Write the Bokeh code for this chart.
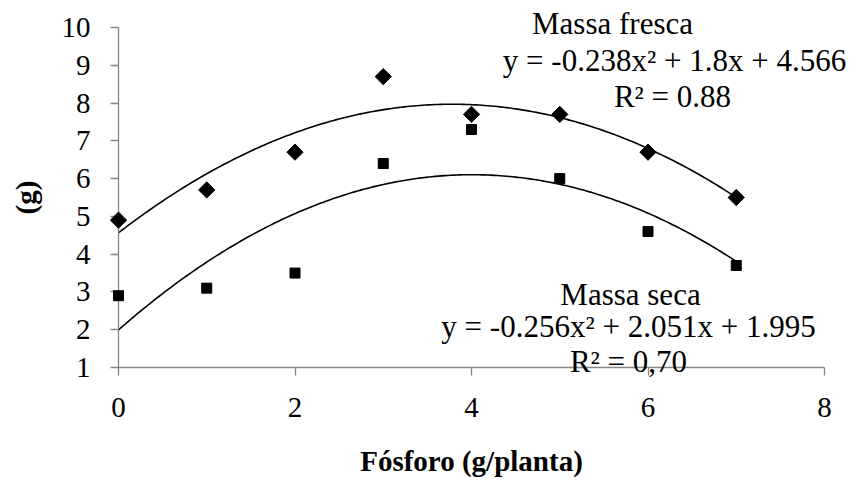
from bokeh.plotting import figure
from bokeh.models import Label, FixedTicker, Range1d
from bokeh.embed import file_html
from bokeh.resources import INLINE
import numpy as np
import math

# ---- data ----
fosforo = [0, 1, 2, 3, 4, 5, 6, 7]
massa_fresca = [4.9, 5.7, 6.7, 8.7, 7.7, 7.7, 6.7, 5.5]
massa_seca = [2.9, 3.1, 3.5, 6.4, 7.3, 6.0, 4.6, 3.7]
coef_fresca = [-0.238, 1.8, 4.566]
coef_seca = [-0.256, 2.051, 1.995]
x_ticks = [0, 2, 4, 6, 8]
y_ticks = [1, 2, 3, 4, 5, 6, 7, 8, 9, 10]

FONT = "Liberation Serif"
GREY = "#868686"

# layout (pixels): x=0 at 118, x=8 at 824; y=10 at 27, y=1 at 367
X0_PX, Y1_PX = 118, 367
PX_X = 706 / 8
PX_Y = 340 / 9
W, H = 850, 482
x_start = -X0_PX / PX_X
x_end = (W - X0_PX) / PX_X
y_end = 10 + (27 - 0) / PX_Y
y_start = 1 - (H - Y1_PX) / PX_Y

p = figure(width=W, height=H, output_backend="svg", toolbar_location=None,
           x_range=Range1d(x_start, x_end), y_range=Range1d(y_start, y_end),
           min_border_left=0, min_border_right=0, min_border_top=0,
           min_border_bottom=0)
p.outline_line_color = None
p.grid.visible = False
p.background_fill_color = "white"
p.border_fill_color = "white"

# trend curves (from the equations shown on the chart)
xc = np.linspace(0, 7, 200)
p.line(xc, np.polyval(coef_fresca, xc), line_color="black", line_width=1.6)
p.line(xc, np.polyval(coef_seca, xc), line_color="black", line_width=1.6)

for ax in (p.xaxis[0], p.yaxis[0]):
    ax.axis_line_color = GREY
    ax.axis_line_width = 1.3
    ax.major_tick_line_color = GREY
    ax.major_tick_line_width = 1.3
    ax.minor_tick_line_color = None
    ax.major_tick_in = 0
    ax.major_tick_out = 8
    ax.major_label_text_font = FONT
    ax.major_label_text_font_size = "29px"
    ax.major_label_text_color = "black"
    ax.axis_label_text_font = FONT
    ax.axis_label_text_font_size = "29px"
    ax.axis_label_text_font_style = "bold"
    ax.axis_label_text_color = "black"

p.xaxis.ticker = FixedTicker(ticks=x_ticks)
p.yaxis.ticker = FixedTicker(ticks=y_ticks)
p.xaxis.bounds = (0, 8)
p.yaxis.bounds = (1, 10)
p.xaxis.fixed_location = 1
p.yaxis.fixed_location = 0
p.xaxis.axis_label = "Fósforo (g/planta)"
p.yaxis.axis_label = "(g)"
p.xaxis.major_label_standoff = 22
p.xaxis.axis_label_standoff = 25
p.yaxis.major_label_standoff = 20
p.yaxis.axis_label_standoff = 17

# points (drawn above axes)
p.scatter(fosforo, massa_fresca, marker="square", size=11.5, angle=math.pi / 4,
          color="black", level="overlay")
p.scatter(fosforo, massa_seca, marker="square", size=10, color="black", level="overlay")


def px_to_x(px):
    return (px - X0_PX) / PX_X


def py_to_y(py):
    return 1 + (Y1_PX - py) / PX_Y


def lab(px, py, t):
    p.add_layout(Label(x=px_to_x(px), y=py_to_y(py), text=t,
                       text_font=FONT, text_font_size="31px", text_align="center",
                       text_baseline="middle", text_color="black"))


lab(612, 23, "Massa fresca")
lab(674, 60, "y = -0.238x² + 1.8x + 4.566")
lab(672, 96, "R² = 0.88")
lab(630, 294, "Massa seca")
lab(628, 326, "y = -0.256x² + 2.051x + 1.995")
lab(628, 361, "R² = 0,70")

open("out.html", "w").write(file_html(p, INLINE))
